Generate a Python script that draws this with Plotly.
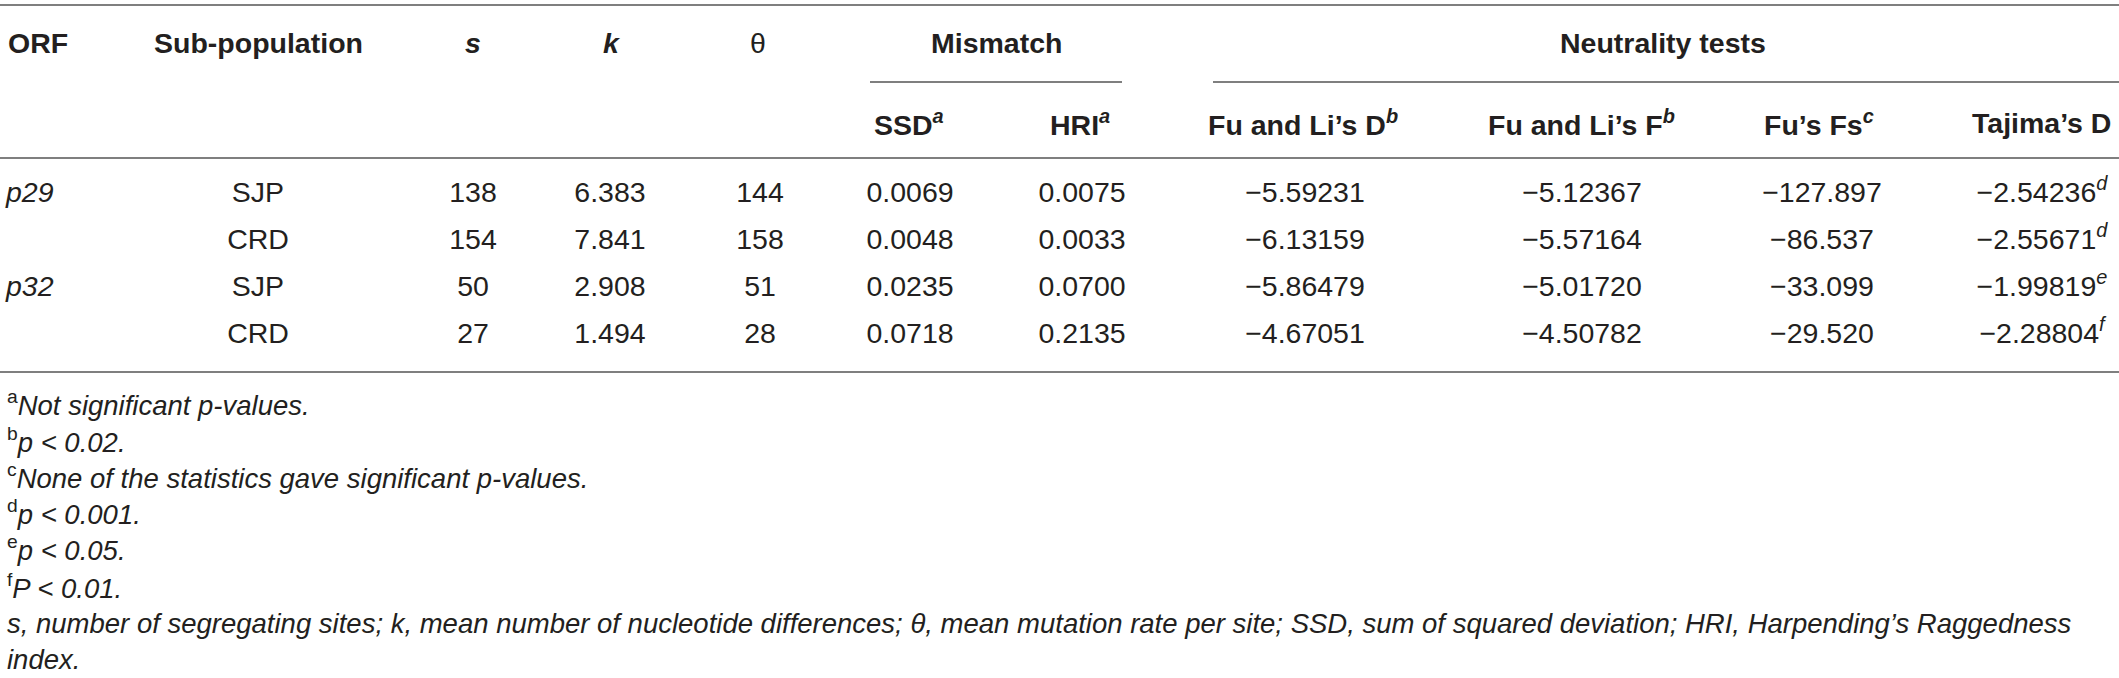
import plotly.graph_objects as go

# table values
orf = ["p29", "", "p32", ""]
subpop = ["SJP", "CRD", "SJP", "CRD"]
s_vals = [138, 154, 50, 27]
k_vals = [6.383, 7.841, 2.908, 1.494]
theta_vals = [144, 158, 51, 28]
ssd_vals = [0.0069, 0.0048, 0.0235, 0.0718]
hri_vals = [0.0075, 0.0033, 0.0700, 0.2135]
fuli_d = [-5.59231, -6.13159, -5.86479, -4.67051]
fuli_f = [-5.12367, -5.57164, -5.01720, -4.50782]
fu_fs = [-127.897, -86.537, -33.099, -29.520]
tajima_d = [-2.54236, -2.55671, -1.99819, -2.28804]
tajima_sig = ["d", "d", "e", "f"]

footnotes = [
    "<sup>a</sup><i>Not significant p-values.</i>",
    "<sup>b</sup><i>p &lt; 0.02.</i>",
    "<sup>c</sup><i>None of the statistics gave significant p-values.</i>",
    "<sup>d</sup><i>p &lt; 0.001.</i>",
    "<sup>e</sup><i>p &lt; 0.05.</i>",
    "<sup>f</sup><i>P &lt; 0.01.</i>",
    "<i>s, number of segregating sites; k, mean number of nucleotide differences; \u03b8, mean mutation rate per site; "
    "SSD, sum of squared deviation; HRI, Harpending\u2019s Raggedness</i>",
    "<i>index.</i>",
]

W, H = 2119, 678
FONT = "Liberation Sans, Arial, Helvetica, sans-serif"
TXT = "#231f20"
RULE = "#7f7f7f"
SZ = 28.5

row_y = [195, 242, 289, 336]
note_y = [403, 440, 476, 512, 548, 586, 623, 659]


def num(v, fmt):
    return format(v, fmt).replace("-", "\u2212")


# column x position and cell texts
columns = [
    (258, list(subpop)),
    (473, [str(v) for v in s_vals]),
    (610, [num(v, ".3f") for v in k_vals]),
    (760, [str(v) for v in theta_vals]),
    (910, [num(v, ".4f") for v in ssd_vals]),
    (1082, [num(v, ".4f") for v in hri_vals]),
    (1305, [num(v, ".5f") for v in fuli_d]),
    (1582, [num(v, ".5f") for v in fuli_f]),
    (1822, [num(v, ".3f") for v in fu_fs]),
    (2042, [num(v, ".5f") + "<sup><i>%s</i></sup>" % sig for v, sig in zip(tajima_d, tajima_sig)]),
]

fig = go.Figure()

# ORF column, left aligned
fig.add_trace(go.Scatter(x=[6] * len(orf), y=row_y, mode="text",
                         text=["<i>%s</i>" % o for o in orf], textposition="middle right",
                         textfont=dict(family=FONT, size=SZ, color=TXT), hoverinfo="skip",
                         cliponaxis=False))
for cx, cells in columns:
    fig.add_trace(go.Scatter(x=[cx] * len(cells), y=row_y, mode="text", text=cells,
                             textposition="middle center", cliponaxis=False,
                             textfont=dict(family=FONT, size=SZ, color=TXT), hoverinfo="skip"))

# headers
hdr_font = dict(family=FONT, size=SZ, color=TXT)
headers_top = [
    (6, "<b>ORF</b>", "left"),
    (258, "<b>Sub-population</b>", "center"),
    (473, "<b><i>s</i></b>", "center"),
    (612, "<b><i>k</i></b>", "center"),
    (758, "\u03b8", "center"),
    (996, "<b>Mismatch</b>", "center"),
    (1663, "<b>Neutrality tests</b>", "center"),
]
for hx, ht, anc in headers_top:
    fig.add_annotation(x=hx, y=43, text=ht, showarrow=False, xanchor=anc, yanchor="middle", font=hdr_font)

headers_sub = [
    (909, "<b>SSD<sup><i>a</i></sup></b>"),
    (1080, "<b>HRI<sup><i>a</i></sup></b>"),
    (1303, "<b>Fu and Li\u2019s D<sup><i>b</i></sup></b>"),
    (1581, "<b>Fu and Li\u2019s F<sup><i>b</i></sup></b>"),
    (1819, "<b>Fu\u2019s Fs<sup><i>c</i></sup></b>"),
    (2041, "<b>Tajima\u2019s D</b>"),
]
for hx, ht in headers_sub:
    fig.add_annotation(x=hx, y=123, text=ht, showarrow=False, xanchor="center", yanchor="middle", font=hdr_font)

# footnotes
for ny, nt in zip(note_y, footnotes):
    fig.add_annotation(x=6, y=ny, text=nt, showarrow=False, xanchor="left", yanchor="middle",
                       borderpad=0, font=dict(family=FONT, size=27.5, color=TXT))

# rules
for x0, x1, yy in [(0, W, 5), (870, 1122, 82), (1213, W, 82), (0, W, 158), (0, W, 372)]:
    fig.add_shape(type="line", x0=x0, x1=x1, y0=yy, y1=yy, line=dict(color=RULE, width=2))

fig.update_xaxes(range=[0, W], visible=False, fixedrange=True)
fig.update_yaxes(range=[H, 0], visible=False, fixedrange=True)
fig.update_layout(width=W, height=H, margin=dict(l=0, r=0, t=0, b=0),
                  paper_bgcolor="white", plot_bgcolor="white", showlegend=False)

# drop the default page margin so the 2119x678 figure fills the window exactly
fig.write_html("out.html", config={"displayModeBar": False},
               post_script="document.body.style.margin='0';document.body.style.overflow='hidden';")
